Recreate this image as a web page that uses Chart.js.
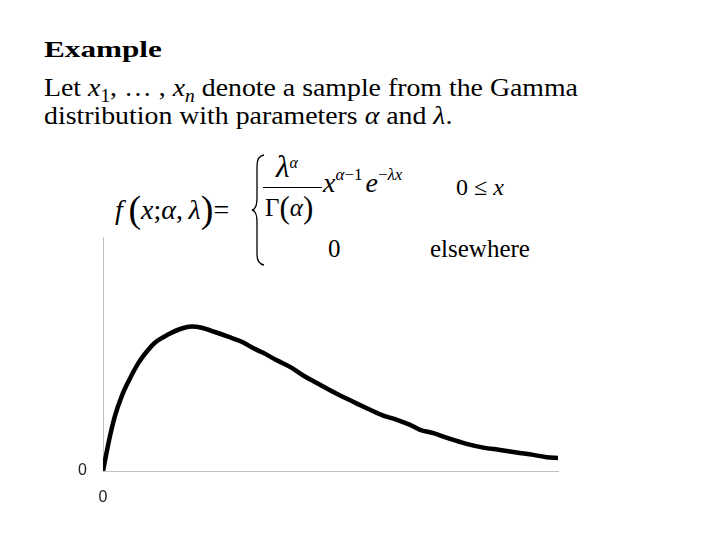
<!DOCTYPE html>
<html>
<head>
<meta charset="utf-8">
<script src="https://cdn.jsdelivr.net/npm/chart.js@4"></script>
<style>
  body { margin: 0; background: #fff; }
  #page { position: relative; width: 720px; height: 540px; overflow: hidden; font-family: "Liberation Serif", serif; color: #000; }
  .t { position: absolute; white-space: nowrap; line-height: 1; transform-origin: left top; }
  i { font-style: italic; }
  .sub { font-size: 0.7em; vertical-align: -0.32em; line-height: 0; }
  .sup { font-size: 17px; vertical-align: 12px; line-height: 0; }
  #chartBox { position: absolute; left: 0; top: 225px; width: 580px; height: 300px; }
</style>
</head>
<body>
<div id="page">
  <div class="t" style="left:44px; top:37px; font-size:24px; font-weight:bold; transform:scaleX(1.3);">Example</div>
  <div class="t" style="left:44px; top:74px; font-size:26px; line-height:28px; transform:scaleX(1.07);">
    Let <i>x</i><span class="sub">1</span>, … , <i>x</i><span class="sub"><i>n</i></span> denote a sample from the Gamma<br>
    distribution with parameters <i>α</i> and <i>λ</i>.
  </div>

  <!-- formula -->
  <div class="t" style="left:115px; top:190px; font-size:28px;"><i>f</i>&thinsp;<span style="font-size:38px; vertical-align:-3px;">(</span><i>x</i>;<i>α</i>,&thinsp;<i>λ</i><span style="font-size:38px; vertical-align:-3px;">)</span>=</div>
  <svg class="t" style="left:250px; top:154px;" width="16" height="112">
    <path d="M14 1 Q7 2 7 12 L7 44 Q7 55 2 56 Q7 57 7 68 L7 100 Q7 110 14 111" fill="none" stroke="#000" stroke-width="1.3"/>
  </svg>
  <div class="t" style="left:276px; top:151px; font-size:31px;"><i>λ</i><span class="sup" style="font-size:16px; vertical-align:9px;"><i>α</i></span></div>
  <div class="t" style="left:263px; top:187px; width:59px; height:1px; background:#000;"></div>
  <div class="t" style="left:265px; top:192px; font-size:25px;">Γ<span style="font-size:31px; vertical-align:-2px;">(</span><i>α</i><span style="font-size:31px; vertical-align:-2px;">)</span></div>
  <div class="t" style="left:323px; top:169px; font-size:28px;"><i>x</i><span class="sup"><i>α</i>−1</span><span style="margin-left:3px;"><i>e</i></span><span class="sup">−<i>λx</i></span></div>
  <div class="t" style="left:456px; top:175px; font-size:24px;">0 ≤ <i>x</i></div>
  <div class="t" style="left:328px; top:236px; font-size:25px;">0</div>
  <div class="t" style="left:430px; top:236px; font-size:25px;">elsewhere</div>

  <div id="chartBox"><canvas id="chart"></canvas></div>
</div>

<script>
// x positions along the axis and curve heights
const xs = [0, 0.12, 0.26, 0.41, 0.56, 0.78, 1.0, 1.14, 1.44, 1.73, 1.95, 2.17, 2.46, 2.75, 3.05, 3.33, 3.52, 3.82, 4.11, 4.4, 4.7, 4.99, 5.28, 5.58, 5.87, 6.16, 6.46, 6.75, 6.97, 7.26, 7.63, 7.99, 8.36, 8.73, 9.09, 9.46, 9.75, 10.0];
const ys = [0, 0.119, 0.233, 0.319, 0.383, 0.462, 0.519, 0.548, 0.584, 0.609, 0.617, 0.612, 0.594, 0.574, 0.552, 0.522, 0.505, 0.473, 0.445, 0.408, 0.376, 0.345, 0.316, 0.288, 0.262, 0.237, 0.219, 0.197, 0.176, 0.162, 0.137, 0.116, 0.1, 0.09, 0.079, 0.069, 0.059, 0.056];
const xTicks = [0];
const yTicks = [0];

const pts = xs.map((x, i) => ({ x: x, y: ys[i] }));
const tickFont = { family: "Liberation Sans", size: 16 };

new Chart(document.getElementById("chart"), {
    type: "line",
    data: {
        datasets: [{
            data: pts,
            borderColor: "#000",
            borderWidth: 4.5,
            pointRadius: 0,
            cubicInterpolationMode: "monotone",
            fill: false
        }]
    },
    options: {
        responsive: true,
        maintainAspectRatio: false,
        animation: false,
        layout: { padding: { left: 0, top: 12, right: 22, bottom: 0 } },
        plugins: { legend: { display: false }, tooltip: { enabled: false } },
        scales: {
            x: {
                type: "linear",
                min: 0,
                max: 10,
                grid: { display: false, drawTicks: false },
                border: { color: "#c0c0c0", width: 1 },
                afterBuildTicks: a => { a.ticks = xTicks.map(v => ({ value: v })); },
                afterFit: a => { a.height = 54; a.paddingLeft = 0; a.paddingRight = 0; },
                ticks: { color: "#222", font: tickFont, padding: 17, maxRotation: 0 }
            },
            y: {
                min: 0,
                max: 1,
                grid: { display: false, drawTicks: false },
                border: { color: "#c0c0c0", width: 1 },
                afterBuildTicks: a => { a.ticks = yTicks.map(v => ({ value: v })); },
                afterFit: a => { a.width = 103; a.paddingTop = 0; a.paddingBottom = 0; },
                ticks: { color: "#222", font: tickFont, padding: 16 }
            }
        }
    }
});
</script>
</body>
</html>
